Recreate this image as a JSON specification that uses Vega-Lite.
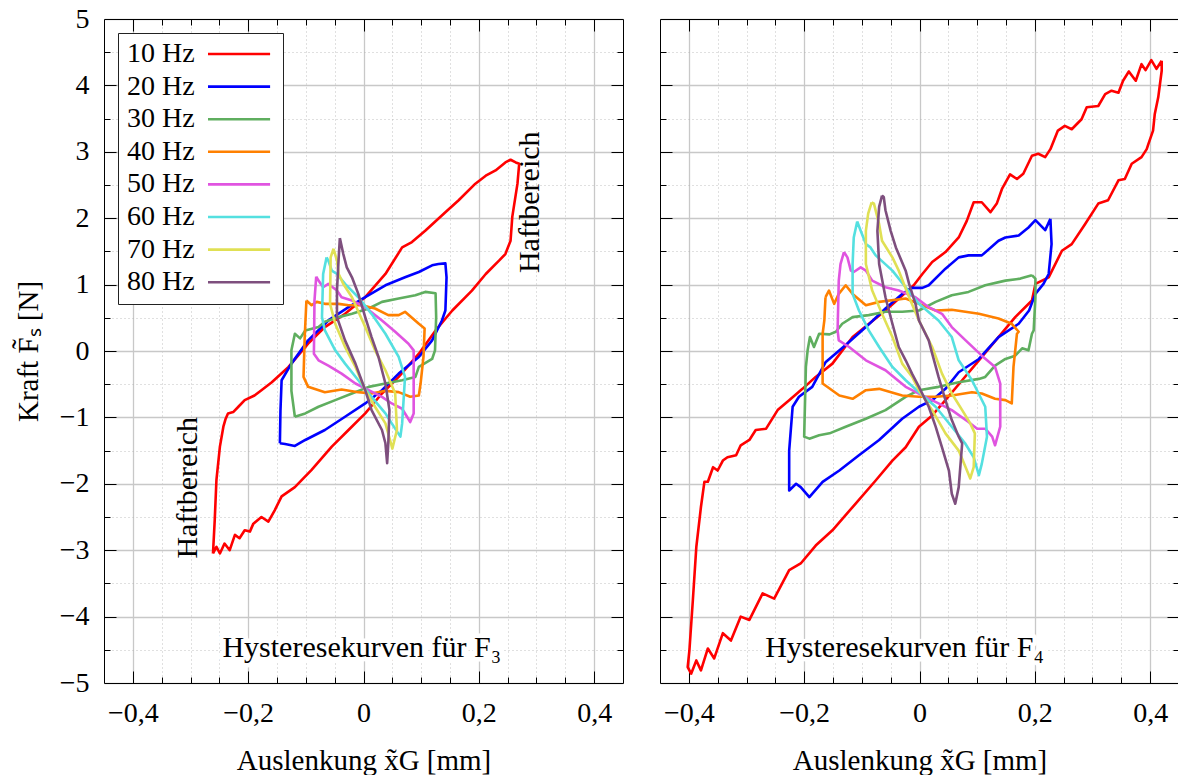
{
"$schema":"https://vega.github.io/schema/vega-lite/v6.json",
"background":"white",
"padding":{"left":14,"top":5,"right":0,"bottom":0},
"config":{
 "font":"Liberation Serif",
 "view":{"stroke":null},
 "concat":{"spacing":35},
 "axis":{"labelFont":"Liberation Serif","titleFont":"Liberation Serif","labelFontSize":28,"titleFontSize":29,"titleFontWeight":"normal","labelColor":"black","titleColor":"black","tickColor":"black","domainColor":"black","domainWidth":1,"tickWidth":1,"gridColor":"#c8c8c8"},
 "legend":{"labelFont":"Liberation Serif","labelFontSize":28,"labelColor":"black"}
},
"datasets":{
"notes":[
{"p":"F3","k":"title","t":"Hysteresekurven für F₃","x":-0.003,"y":-4.47},
{"p":"F4","k":"title","t":"Hysteresekurven für F₄","x":-0.026,"y":-4.47},
{"p":"F3","k":"haft","t":"Haftbereich","x":-0.304,"y":-2.06},
{"p":"F3","k":"haft","t":"Haftbereich","x":0.289,"y":2.24}
],
"curves":[
{"p":"F3","f":"10 Hz","x":-0.261,"y":-3.05},{"p":"F3","f":"10 Hz","x":-0.258,"y":-2.55},{"p":"F3","f":"10 Hz","x":-0.255,"y":-1.94},{"p":"F3","f":"10 Hz","x":-0.249,"y":-1.44},{"p":"F3","f":"10 Hz","x":-0.243,"y":-1.14},{"p":"F3","f":"10 Hz","x":-0.239,"y":-1.02},{"p":"F3","f":"10 Hz","x":-0.235,"y":-0.94},{"p":"F3","f":"10 Hz","x":-0.226,"y":-0.92},{"p":"F3","f":"10 Hz","x":-0.217,"y":-0.84},{"p":"F3","f":"10 Hz","x":-0.206,"y":-0.74},{"p":"F3","f":"10 Hz","x":-0.189,"y":-0.67},{"p":"F3","f":"10 Hz","x":-0.177,"y":-0.59},{"p":"F3","f":"10 Hz","x":-0.159,"y":-0.47},{"p":"F3","f":"10 Hz","x":-0.13,"y":-0.24},{"p":"F3","f":"10 Hz","x":-0.096,"y":0.11},{"p":"F3","f":"10 Hz","x":-0.067,"y":0.36},{"p":"F3","f":"10 Hz","x":-0.032,"y":0.56},{"p":"F3","f":"10 Hz","x":0.003,"y":0.81},{"p":"F3","f":"10 Hz","x":0.038,"y":1.16},{"p":"F3","f":"10 Hz","x":0.067,"y":1.56},{"p":"F3","f":"10 Hz","x":0.084,"y":1.64},{"p":"F3","f":"10 Hz","x":0.107,"y":1.81},{"p":"F3","f":"10 Hz","x":0.142,"y":2.09},{"p":"F3","f":"10 Hz","x":0.165,"y":2.27},{"p":"F3","f":"10 Hz","x":0.194,"y":2.52},{"p":"F3","f":"10 Hz","x":0.212,"y":2.64},{"p":"F3","f":"10 Hz","x":0.229,"y":2.72},{"p":"F3","f":"10 Hz","x":0.246,"y":2.84},{"p":"F3","f":"10 Hz","x":0.255,"y":2.88},{"p":"F3","f":"10 Hz","x":0.264,"y":2.84},{"p":"F3","f":"10 Hz","x":0.27,"y":2.82},{"p":"F3","f":"10 Hz","x":0.267,"y":2.52},{"p":"F3","f":"10 Hz","x":0.258,"y":2.02},{"p":"F3","f":"10 Hz","x":0.255,"y":1.66},{"p":"F3","f":"10 Hz","x":0.246,"y":1.46},{"p":"F3","f":"10 Hz","x":0.235,"y":1.36},{"p":"F3","f":"10 Hz","x":0.212,"y":1.16},{"p":"F3","f":"10 Hz","x":0.188,"y":0.91},{"p":"F3","f":"10 Hz","x":0.154,"y":0.61},{"p":"F3","f":"10 Hz","x":0.125,"y":0.31},{"p":"F3","f":"10 Hz","x":0.096,"y":-0.04},{"p":"F3","f":"10 Hz","x":0.061,"y":-0.39},{"p":"F3","f":"10 Hz","x":0.032,"y":-0.64},{"p":"F3","f":"10 Hz","x":0.003,"y":-0.94},{"p":"F3","f":"10 Hz","x":-0.026,"y":-1.19},{"p":"F3","f":"10 Hz","x":-0.055,"y":-1.44},{"p":"F3","f":"10 Hz","x":-0.09,"y":-1.79},{"p":"F3","f":"10 Hz","x":-0.119,"y":-2.05},{"p":"F3","f":"10 Hz","x":-0.142,"y":-2.19},{"p":"F3","f":"10 Hz","x":-0.154,"y":-2.4},{"p":"F3","f":"10 Hz","x":-0.165,"y":-2.57},{"p":"F3","f":"10 Hz","x":-0.177,"y":-2.5},{"p":"F3","f":"10 Hz","x":-0.191,"y":-2.6},{"p":"F3","f":"10 Hz","x":-0.197,"y":-2.72},{"p":"F3","f":"10 Hz","x":-0.206,"y":-2.7},{"p":"F3","f":"10 Hz","x":-0.215,"y":-2.82},{"p":"F3","f":"10 Hz","x":-0.223,"y":-2.77},{"p":"F3","f":"10 Hz","x":-0.232,"y":-3.0},{"p":"F3","f":"10 Hz","x":-0.241,"y":-2.9},{"p":"F3","f":"10 Hz","x":-0.249,"y":-3.05},{"p":"F3","f":"10 Hz","x":-0.255,"y":-2.95},{"p":"F3","f":"10 Hz","x":-0.261,"y":-3.05},
{"p":"F3","f":"20 Hz","x":-0.145,"y":-1.39},{"p":"F3","f":"20 Hz","x":-0.144,"y":-0.9},{"p":"F3","f":"20 Hz","x":-0.142,"y":-0.44},{"p":"F3","f":"20 Hz","x":-0.125,"y":-0.19},{"p":"F3","f":"20 Hz","x":-0.096,"y":0.16},{"p":"F3","f":"20 Hz","x":-0.061,"y":0.46},{"p":"F3","f":"20 Hz","x":-0.026,"y":0.66},{"p":"F3","f":"20 Hz","x":0.003,"y":0.81},{"p":"F3","f":"20 Hz","x":0.038,"y":0.99},{"p":"F3","f":"20 Hz","x":0.072,"y":1.11},{"p":"F3","f":"20 Hz","x":0.096,"y":1.19},{"p":"F3","f":"20 Hz","x":0.119,"y":1.29},{"p":"F3","f":"20 Hz","x":0.13,"y":1.31},{"p":"F3","f":"20 Hz","x":0.142,"y":1.32},{"p":"F3","f":"20 Hz","x":0.144,"y":1.11},{"p":"F3","f":"20 Hz","x":0.142,"y":0.61},{"p":"F3","f":"20 Hz","x":0.136,"y":0.46},{"p":"F3","f":"20 Hz","x":0.119,"y":0.16},{"p":"F3","f":"20 Hz","x":0.096,"y":-0.09},{"p":"F3","f":"20 Hz","x":0.061,"y":-0.34},{"p":"F3","f":"20 Hz","x":0.032,"y":-0.59},{"p":"F3","f":"20 Hz","x":0.003,"y":-0.79},{"p":"F3","f":"20 Hz","x":-0.032,"y":-0.99},{"p":"F3","f":"20 Hz","x":-0.067,"y":-1.19},{"p":"F3","f":"20 Hz","x":-0.101,"y":-1.34},{"p":"F3","f":"20 Hz","x":-0.119,"y":-1.43},{"p":"F3","f":"20 Hz","x":-0.136,"y":-1.4},{"p":"F3","f":"20 Hz","x":-0.145,"y":-1.39},
{"p":"F3","f":"30 Hz","x":-0.119,"y":-0.99},{"p":"F3","f":"30 Hz","x":-0.125,"y":-0.6},{"p":"F3","f":"30 Hz","x":-0.125,"y":0.01},{"p":"F3","f":"30 Hz","x":-0.119,"y":0.26},{"p":"F3","f":"30 Hz","x":-0.11,"y":0.19},{"p":"F3","f":"30 Hz","x":-0.101,"y":0.31},{"p":"F3","f":"30 Hz","x":-0.078,"y":0.36},{"p":"F3","f":"30 Hz","x":-0.067,"y":0.44},{"p":"F3","f":"30 Hz","x":-0.043,"y":0.51},{"p":"F3","f":"30 Hz","x":-0.02,"y":0.56},{"p":"F3","f":"30 Hz","x":0.009,"y":0.64},{"p":"F3","f":"30 Hz","x":0.032,"y":0.74},{"p":"F3","f":"30 Hz","x":0.061,"y":0.79},{"p":"F3","f":"30 Hz","x":0.09,"y":0.84},{"p":"F3","f":"30 Hz","x":0.107,"y":0.89},{"p":"F3","f":"30 Hz","x":0.125,"y":0.87},{"p":"F3","f":"30 Hz","x":0.126,"y":0.51},{"p":"F3","f":"30 Hz","x":0.124,"y":0.01},{"p":"F3","f":"30 Hz","x":0.119,"y":-0.12},{"p":"F3","f":"30 Hz","x":0.096,"y":-0.24},{"p":"F3","f":"30 Hz","x":0.09,"y":-0.39},{"p":"F3","f":"30 Hz","x":0.067,"y":-0.44},{"p":"F3","f":"30 Hz","x":0.038,"y":-0.49},{"p":"F3","f":"30 Hz","x":0.009,"y":-0.54},{"p":"F3","f":"30 Hz","x":-0.02,"y":-0.64},{"p":"F3","f":"30 Hz","x":-0.049,"y":-0.74},{"p":"F3","f":"30 Hz","x":-0.078,"y":-0.84},{"p":"F3","f":"30 Hz","x":-0.101,"y":-0.94},{"p":"F3","f":"30 Hz","x":-0.119,"y":-0.99},
{"p":"F3","f":"40 Hz","x":-0.099,"y":0.76},{"p":"F3","f":"40 Hz","x":-0.102,"y":0.2},{"p":"F3","f":"40 Hz","x":-0.104,"y":-0.39},{"p":"F3","f":"40 Hz","x":-0.096,"y":-0.54},{"p":"F3","f":"40 Hz","x":-0.067,"y":-0.62},{"p":"F3","f":"40 Hz","x":-0.038,"y":-0.58},{"p":"F3","f":"40 Hz","x":-0.009,"y":-0.62},{"p":"F3","f":"40 Hz","x":0.014,"y":-0.64},{"p":"F3","f":"40 Hz","x":0.038,"y":-0.6},{"p":"F3","f":"40 Hz","x":0.061,"y":-0.62},{"p":"F3","f":"40 Hz","x":0.081,"y":-0.69},{"p":"F3","f":"40 Hz","x":0.096,"y":-0.67},{"p":"F3","f":"40 Hz","x":0.099,"y":-0.49},{"p":"F3","f":"40 Hz","x":0.104,"y":-0.09},{"p":"F3","f":"40 Hz","x":0.106,"y":0.34},{"p":"F3","f":"40 Hz","x":0.096,"y":0.41},{"p":"F3","f":"40 Hz","x":0.072,"y":0.59},{"p":"F3","f":"40 Hz","x":0.061,"y":0.54},{"p":"F3","f":"40 Hz","x":0.043,"y":0.54},{"p":"F3","f":"40 Hz","x":0.02,"y":0.64},{"p":"F3","f":"40 Hz","x":-0.003,"y":0.69},{"p":"F3","f":"40 Hz","x":-0.026,"y":0.69},{"p":"F3","f":"40 Hz","x":-0.043,"y":0.71},{"p":"F3","f":"40 Hz","x":-0.067,"y":0.71},{"p":"F3","f":"40 Hz","x":-0.081,"y":0.74},{"p":"F3","f":"40 Hz","x":-0.09,"y":0.69},{"p":"F3","f":"40 Hz","x":-0.099,"y":0.76},
{"p":"F3","f":"50 Hz","x":-0.082,"y":1.12},{"p":"F3","f":"50 Hz","x":-0.085,"y":0.76},{"p":"F3","f":"50 Hz","x":-0.086,"y":-0.04},{"p":"F3","f":"50 Hz","x":-0.078,"y":-0.14},{"p":"F3","f":"50 Hz","x":-0.061,"y":-0.22},{"p":"F3","f":"50 Hz","x":-0.038,"y":-0.34},{"p":"F3","f":"50 Hz","x":-0.014,"y":-0.49},{"p":"F3","f":"50 Hz","x":0.009,"y":-0.59},{"p":"F3","f":"50 Hz","x":0.032,"y":-0.69},{"p":"F3","f":"50 Hz","x":0.049,"y":-0.79},{"p":"F3","f":"50 Hz","x":0.067,"y":-0.87},{"p":"F3","f":"50 Hz","x":0.081,"y":-1.07},{"p":"F3","f":"50 Hz","x":0.087,"y":-0.94},{"p":"F3","f":"50 Hz","x":0.087,"y":0.01},{"p":"F3","f":"50 Hz","x":0.078,"y":0.11},{"p":"F3","f":"50 Hz","x":0.055,"y":0.29},{"p":"F3","f":"50 Hz","x":0.032,"y":0.46},{"p":"F3","f":"50 Hz","x":0.003,"y":0.66},{"p":"F3","f":"50 Hz","x":-0.02,"y":0.76},{"p":"F3","f":"50 Hz","x":-0.038,"y":0.81},{"p":"F3","f":"50 Hz","x":-0.046,"y":0.91},{"p":"F3","f":"50 Hz","x":-0.061,"y":1.01},{"p":"F3","f":"50 Hz","x":-0.07,"y":0.96},{"p":"F3","f":"50 Hz","x":-0.078,"y":1.06},{"p":"F3","f":"50 Hz","x":-0.082,"y":1.12},
{"p":"F3","f":"60 Hz","x":-0.064,"y":1.41},{"p":"F3","f":"60 Hz","x":-0.07,"y":1.16},{"p":"F3","f":"60 Hz","x":-0.072,"y":0.51},{"p":"F3","f":"60 Hz","x":-0.067,"y":0.31},{"p":"F3","f":"60 Hz","x":-0.049,"y":0.01},{"p":"F3","f":"60 Hz","x":-0.032,"y":-0.19},{"p":"F3","f":"60 Hz","x":-0.009,"y":-0.44},{"p":"F3","f":"60 Hz","x":0.014,"y":-0.69},{"p":"F3","f":"60 Hz","x":0.038,"y":-0.94},{"p":"F3","f":"60 Hz","x":0.049,"y":-1.09},{"p":"F3","f":"60 Hz","x":0.064,"y":-1.29},{"p":"F3","f":"60 Hz","x":0.067,"y":-1.09},{"p":"F3","f":"60 Hz","x":0.072,"y":-0.39},{"p":"F3","f":"60 Hz","x":0.061,"y":-0.09},{"p":"F3","f":"60 Hz","x":0.038,"y":0.26},{"p":"F3","f":"60 Hz","x":0.014,"y":0.56},{"p":"F3","f":"60 Hz","x":-0.009,"y":0.81},{"p":"F3","f":"60 Hz","x":-0.032,"y":1.01},{"p":"F3","f":"60 Hz","x":-0.046,"y":1.16},{"p":"F3","f":"60 Hz","x":-0.055,"y":1.21},{"p":"F3","f":"60 Hz","x":-0.061,"y":1.36},{"p":"F3","f":"60 Hz","x":-0.064,"y":1.41},
{"p":"F3","f":"70 Hz","x":-0.052,"y":1.54},{"p":"F3","f":"70 Hz","x":-0.057,"y":1.41},{"p":"F3","f":"70 Hz","x":-0.058,"y":0.71},{"p":"F3","f":"70 Hz","x":-0.049,"y":0.41},{"p":"F3","f":"70 Hz","x":-0.032,"y":0.06},{"p":"F3","f":"70 Hz","x":-0.014,"y":-0.24},{"p":"F3","f":"70 Hz","x":0.003,"y":-0.59},{"p":"F3","f":"70 Hz","x":0.02,"y":-0.84},{"p":"F3","f":"70 Hz","x":0.038,"y":-1.09},{"p":"F3","f":"70 Hz","x":0.046,"y":-1.34},{"p":"F3","f":"70 Hz","x":0.05,"y":-1.47},{"p":"F3","f":"70 Hz","x":0.058,"y":-1.19},{"p":"F3","f":"70 Hz","x":0.055,"y":-0.64},{"p":"F3","f":"70 Hz","x":0.038,"y":-0.29},{"p":"F3","f":"70 Hz","x":0.02,"y":0.01},{"p":"F3","f":"70 Hz","x":0.003,"y":0.36},{"p":"F3","f":"70 Hz","x":-0.02,"y":0.81},{"p":"F3","f":"70 Hz","x":-0.035,"y":1.01},{"p":"F3","f":"70 Hz","x":-0.043,"y":1.16},{"p":"F3","f":"70 Hz","x":-0.046,"y":1.36},{"p":"F3","f":"70 Hz","x":-0.052,"y":1.54},
{"p":"F3","f":"80 Hz","x":-0.041,"y":1.7},{"p":"F3","f":"80 Hz","x":-0.043,"y":1.41},{"p":"F3","f":"80 Hz","x":-0.046,"y":0.91},{"p":"F3","f":"80 Hz","x":-0.046,"y":0.51},{"p":"F3","f":"80 Hz","x":-0.032,"y":0.16},{"p":"F3","f":"80 Hz","x":-0.014,"y":-0.19},{"p":"F3","f":"80 Hz","x":0.003,"y":-0.59},{"p":"F3","f":"80 Hz","x":0.014,"y":-0.89},{"p":"F3","f":"80 Hz","x":0.032,"y":-1.19},{"p":"F3","f":"80 Hz","x":0.038,"y":-1.39},{"p":"F3","f":"80 Hz","x":0.041,"y":-1.69},{"p":"F3","f":"80 Hz","x":0.043,"y":-1.39},{"p":"F3","f":"80 Hz","x":0.045,"y":-0.89},{"p":"F3","f":"80 Hz","x":0.038,"y":-0.49},{"p":"F3","f":"80 Hz","x":0.026,"y":-0.09},{"p":"F3","f":"80 Hz","x":0.014,"y":0.21},{"p":"F3","f":"80 Hz","x":0.003,"y":0.51},{"p":"F3","f":"80 Hz","x":-0.009,"y":0.86},{"p":"F3","f":"80 Hz","x":-0.02,"y":1.11},{"p":"F3","f":"80 Hz","x":-0.029,"y":1.26},{"p":"F3","f":"80 Hz","x":-0.035,"y":1.46},{"p":"F3","f":"80 Hz","x":-0.041,"y":1.7},
{"p":"F4","f":"10 Hz","x":0.42,"y":4.37},{"p":"F4","f":"10 Hz","x":0.411,"y":4.25},{"p":"F4","f":"10 Hz","x":0.402,"y":4.38},{"p":"F4","f":"10 Hz","x":0.392,"y":4.23},{"p":"F4","f":"10 Hz","x":0.385,"y":4.32},{"p":"F4","f":"10 Hz","x":0.375,"y":4.07},{"p":"F4","f":"10 Hz","x":0.363,"y":4.21},{"p":"F4","f":"10 Hz","x":0.353,"y":4.07},{"p":"F4","f":"10 Hz","x":0.345,"y":3.89},{"p":"F4","f":"10 Hz","x":0.333,"y":3.92},{"p":"F4","f":"10 Hz","x":0.322,"y":3.87},{"p":"F4","f":"10 Hz","x":0.31,"y":3.69},{"p":"F4","f":"10 Hz","x":0.29,"y":3.67},{"p":"F4","f":"10 Hz","x":0.281,"y":3.49},{"p":"F4","f":"10 Hz","x":0.264,"y":3.34},{"p":"F4","f":"10 Hz","x":0.252,"y":3.39},{"p":"F4","f":"10 Hz","x":0.24,"y":3.32},{"p":"F4","f":"10 Hz","x":0.227,"y":3.04},{"p":"F4","f":"10 Hz","x":0.218,"y":2.92},{"p":"F4","f":"10 Hz","x":0.206,"y":2.97},{"p":"F4","f":"10 Hz","x":0.195,"y":2.94},{"p":"F4","f":"10 Hz","x":0.18,"y":2.67},{"p":"F4","f":"10 Hz","x":0.169,"y":2.59},{"p":"F4","f":"10 Hz","x":0.157,"y":2.66},{"p":"F4","f":"10 Hz","x":0.143,"y":2.44},{"p":"F4","f":"10 Hz","x":0.134,"y":2.22},{"p":"F4","f":"10 Hz","x":0.123,"y":2.09},{"p":"F4","f":"10 Hz","x":0.108,"y":2.24},{"p":"F4","f":"10 Hz","x":0.094,"y":2.24},{"p":"F4","f":"10 Hz","x":0.082,"y":1.96},{"p":"F4","f":"10 Hz","x":0.068,"y":1.71},{"p":"F4","f":"10 Hz","x":0.045,"y":1.49},{"p":"F4","f":"10 Hz","x":0.022,"y":1.34},{"p":"F4","f":"10 Hz","x":0.005,"y":1.16},{"p":"F4","f":"10 Hz","x":-0.01,"y":0.99},{"p":"F4","f":"10 Hz","x":-0.059,"y":0.61},{"p":"F4","f":"10 Hz","x":-0.116,"y":0.21},{"p":"F4","f":"10 Hz","x":-0.151,"y":-0.19},{"p":"F4","f":"10 Hz","x":-0.18,"y":-0.39},{"p":"F4","f":"10 Hz","x":-0.203,"y":-0.57},{"p":"F4","f":"10 Hz","x":-0.226,"y":-0.74},{"p":"F4","f":"10 Hz","x":-0.246,"y":-0.89},{"p":"F4","f":"10 Hz","x":-0.266,"y":-1.17},{"p":"F4","f":"10 Hz","x":-0.284,"y":-1.19},{"p":"F4","f":"10 Hz","x":-0.295,"y":-1.34},{"p":"F4","f":"10 Hz","x":-0.31,"y":-1.42},{"p":"F4","f":"10 Hz","x":-0.318,"y":-1.57},{"p":"F4","f":"10 Hz","x":-0.333,"y":-1.6},{"p":"F4","f":"10 Hz","x":-0.341,"y":-1.65},{"p":"F4","f":"10 Hz","x":-0.35,"y":-1.8},{"p":"F4","f":"10 Hz","x":-0.358,"y":-1.75},{"p":"F4","f":"10 Hz","x":-0.367,"y":-1.97},{"p":"F4","f":"10 Hz","x":-0.373,"y":-1.97},{"p":"F4","f":"10 Hz","x":-0.379,"y":-2.35},{"p":"F4","f":"10 Hz","x":-0.387,"y":-2.95},{"p":"F4","f":"10 Hz","x":-0.393,"y":-3.75},{"p":"F4","f":"10 Hz","x":-0.399,"y":-4.51},{"p":"F4","f":"10 Hz","x":-0.402,"y":-4.76},{"p":"F4","f":"10 Hz","x":-0.396,"y":-4.86},{"p":"F4","f":"10 Hz","x":-0.387,"y":-4.66},{"p":"F4","f":"10 Hz","x":-0.379,"y":-4.81},{"p":"F4","f":"10 Hz","x":-0.367,"y":-4.48},{"p":"F4","f":"10 Hz","x":-0.356,"y":-4.63},{"p":"F4","f":"10 Hz","x":-0.341,"y":-4.25},{"p":"F4","f":"10 Hz","x":-0.327,"y":-4.36},{"p":"F4","f":"10 Hz","x":-0.31,"y":-4.0},{"p":"F4","f":"10 Hz","x":-0.295,"y":-4.05},{"p":"F4","f":"10 Hz","x":-0.272,"y":-3.65},{"p":"F4","f":"10 Hz","x":-0.252,"y":-3.73},{"p":"F4","f":"10 Hz","x":-0.226,"y":-3.3},{"p":"F4","f":"10 Hz","x":-0.206,"y":-3.2},{"p":"F4","f":"10 Hz","x":-0.18,"y":-2.93},{"p":"F4","f":"10 Hz","x":-0.151,"y":-2.7},{"p":"F4","f":"10 Hz","x":-0.116,"y":-2.35},{"p":"F4","f":"10 Hz","x":-0.076,"y":-1.95},{"p":"F4","f":"10 Hz","x":-0.047,"y":-1.65},{"p":"F4","f":"10 Hz","x":-0.024,"y":-1.45},{"p":"F4","f":"10 Hz","x":-0.001,"y":-1.14},{"p":"F4","f":"10 Hz","x":0.022,"y":-0.97},{"p":"F4","f":"10 Hz","x":0.045,"y":-0.74},{"p":"F4","f":"10 Hz","x":0.074,"y":-0.44},{"p":"F4","f":"10 Hz","x":0.103,"y":-0.14},{"p":"F4","f":"10 Hz","x":0.137,"y":0.21},{"p":"F4","f":"10 Hz","x":0.166,"y":0.51},{"p":"F4","f":"10 Hz","x":0.195,"y":0.76},{"p":"F4","f":"10 Hz","x":0.201,"y":1.01},{"p":"F4","f":"10 Hz","x":0.224,"y":1.11},{"p":"F4","f":"10 Hz","x":0.247,"y":1.51},{"p":"F4","f":"10 Hz","x":0.264,"y":1.61},{"p":"F4","f":"10 Hz","x":0.287,"y":1.91},{"p":"F4","f":"10 Hz","x":0.31,"y":2.22},{"p":"F4","f":"10 Hz","x":0.327,"y":2.27},{"p":"F4","f":"10 Hz","x":0.345,"y":2.57},{"p":"F4","f":"10 Hz","x":0.356,"y":2.59},{"p":"F4","f":"10 Hz","x":0.368,"y":2.82},{"p":"F4","f":"10 Hz","x":0.385,"y":2.92},{"p":"F4","f":"10 Hz","x":0.394,"y":3.04},{"p":"F4","f":"10 Hz","x":0.397,"y":3.12},{"p":"F4","f":"10 Hz","x":0.405,"y":3.32},{"p":"F4","f":"10 Hz","x":0.408,"y":3.57},{"p":"F4","f":"10 Hz","x":0.414,"y":3.82},{"p":"F4","f":"10 Hz","x":0.42,"y":4.22},{"p":"F4","f":"10 Hz","x":0.42,"y":4.37},
{"p":"F4","f":"20 Hz","x":0.227,"y":1.99},{"p":"F4","f":"20 Hz","x":0.218,"y":1.82},{"p":"F4","f":"20 Hz","x":0.201,"y":1.97},{"p":"F4","f":"20 Hz","x":0.189,"y":1.86},{"p":"F4","f":"20 Hz","x":0.172,"y":1.74},{"p":"F4","f":"20 Hz","x":0.149,"y":1.71},{"p":"F4","f":"20 Hz","x":0.137,"y":1.66},{"p":"F4","f":"20 Hz","x":0.108,"y":1.44},{"p":"F4","f":"20 Hz","x":0.085,"y":1.44},{"p":"F4","f":"20 Hz","x":0.068,"y":1.41},{"p":"F4","f":"20 Hz","x":0.045,"y":1.24},{"p":"F4","f":"20 Hz","x":0.016,"y":0.99},{"p":"F4","f":"20 Hz","x":0.005,"y":0.95},{"p":"F4","f":"20 Hz","x":-0.013,"y":0.95},{"p":"F4","f":"20 Hz","x":-0.03,"y":0.86},{"p":"F4","f":"20 Hz","x":-0.059,"y":0.64},{"p":"F4","f":"20 Hz","x":-0.093,"y":0.36},{"p":"F4","f":"20 Hz","x":-0.128,"y":0.09},{"p":"F4","f":"20 Hz","x":-0.163,"y":-0.17},{"p":"F4","f":"20 Hz","x":-0.186,"y":-0.54},{"p":"F4","f":"20 Hz","x":-0.209,"y":-0.69},{"p":"F4","f":"20 Hz","x":-0.22,"y":-0.84},{"p":"F4","f":"20 Hz","x":-0.226,"y":-1.5},{"p":"F4","f":"20 Hz","x":-0.226,"y":-2.1},{"p":"F4","f":"20 Hz","x":-0.214,"y":-2.0},{"p":"F4","f":"20 Hz","x":-0.206,"y":-2.05},{"p":"F4","f":"20 Hz","x":-0.191,"y":-2.2},{"p":"F4","f":"20 Hz","x":-0.168,"y":-1.97},{"p":"F4","f":"20 Hz","x":-0.139,"y":-1.8},{"p":"F4","f":"20 Hz","x":-0.105,"y":-1.57},{"p":"F4","f":"20 Hz","x":-0.07,"y":-1.34},{"p":"F4","f":"20 Hz","x":-0.03,"y":-1.02},{"p":"F4","f":"20 Hz","x":-0.001,"y":-0.84},{"p":"F4","f":"20 Hz","x":0.022,"y":-0.74},{"p":"F4","f":"20 Hz","x":0.045,"y":-0.57},{"p":"F4","f":"20 Hz","x":0.068,"y":-0.32},{"p":"F4","f":"20 Hz","x":0.103,"y":-0.12},{"p":"F4","f":"20 Hz","x":0.137,"y":0.21},{"p":"F4","f":"20 Hz","x":0.172,"y":0.41},{"p":"F4","f":"20 Hz","x":0.19,"y":0.61},{"p":"F4","f":"20 Hz","x":0.201,"y":0.86},{"p":"F4","f":"20 Hz","x":0.215,"y":1.01},{"p":"F4","f":"20 Hz","x":0.224,"y":1.16},{"p":"F4","f":"20 Hz","x":0.229,"y":1.61},{"p":"F4","f":"20 Hz","x":0.227,"y":1.99},
{"p":"F4","f":"30 Hz","x":0.195,"y":1.14},{"p":"F4","f":"30 Hz","x":0.175,"y":1.09},{"p":"F4","f":"30 Hz","x":0.149,"y":1.06},{"p":"F4","f":"30 Hz","x":0.114,"y":0.99},{"p":"F4","f":"30 Hz","x":0.085,"y":0.89},{"p":"F4","f":"30 Hz","x":0.056,"y":0.84},{"p":"F4","f":"30 Hz","x":0.028,"y":0.74},{"p":"F4","f":"30 Hz","x":-0.001,"y":0.61},{"p":"F4","f":"30 Hz","x":-0.03,"y":0.59},{"p":"F4","f":"30 Hz","x":-0.059,"y":0.59},{"p":"F4","f":"30 Hz","x":-0.088,"y":0.54},{"p":"F4","f":"30 Hz","x":-0.116,"y":0.51},{"p":"F4","f":"30 Hz","x":-0.134,"y":0.41},{"p":"F4","f":"30 Hz","x":-0.145,"y":0.29},{"p":"F4","f":"30 Hz","x":-0.156,"y":0.25},{"p":"F4","f":"30 Hz","x":-0.174,"y":0.26},{"p":"F4","f":"30 Hz","x":-0.183,"y":0.06},{"p":"F4","f":"30 Hz","x":-0.19,"y":0.21},{"p":"F4","f":"30 Hz","x":-0.194,"y":0.01},{"p":"F4","f":"30 Hz","x":-0.197,"y":-0.24},{"p":"F4","f":"30 Hz","x":-0.2,"y":-1.29},{"p":"F4","f":"30 Hz","x":-0.191,"y":-1.32},{"p":"F4","f":"30 Hz","x":-0.174,"y":-1.27},{"p":"F4","f":"30 Hz","x":-0.156,"y":-1.24},{"p":"F4","f":"30 Hz","x":-0.128,"y":-1.14},{"p":"F4","f":"30 Hz","x":-0.093,"y":-1.02},{"p":"F4","f":"30 Hz","x":-0.059,"y":-0.89},{"p":"F4","f":"30 Hz","x":-0.024,"y":-0.69},{"p":"F4","f":"30 Hz","x":-0.001,"y":-0.59},{"p":"F4","f":"30 Hz","x":0.033,"y":-0.54},{"p":"F4","f":"30 Hz","x":0.068,"y":-0.47},{"p":"F4","f":"30 Hz","x":0.103,"y":-0.42},{"p":"F4","f":"30 Hz","x":0.114,"y":-0.39},{"p":"F4","f":"30 Hz","x":0.131,"y":-0.22},{"p":"F4","f":"30 Hz","x":0.149,"y":-0.12},{"p":"F4","f":"30 Hz","x":0.166,"y":-0.07},{"p":"F4","f":"30 Hz","x":0.178,"y":0.04},{"p":"F4","f":"30 Hz","x":0.189,"y":0.01},{"p":"F4","f":"30 Hz","x":0.195,"y":0.26},{"p":"F4","f":"30 Hz","x":0.198,"y":0.31},{"p":"F4","f":"30 Hz","x":0.201,"y":0.81},{"p":"F4","f":"30 Hz","x":0.201,"y":1.09},{"p":"F4","f":"30 Hz","x":0.195,"y":1.14},
{"p":"F4","f":"40 Hz","x":-0.163,"y":0.81},{"p":"F4","f":"40 Hz","x":-0.157,"y":0.91},{"p":"F4","f":"40 Hz","x":-0.148,"y":0.71},{"p":"F4","f":"40 Hz","x":-0.14,"y":0.86},{"p":"F4","f":"40 Hz","x":-0.128,"y":0.99},{"p":"F4","f":"40 Hz","x":-0.116,"y":0.86},{"p":"F4","f":"40 Hz","x":-0.093,"y":0.69},{"p":"F4","f":"40 Hz","x":-0.07,"y":0.74},{"p":"F4","f":"40 Hz","x":-0.024,"y":0.79},{"p":"F4","f":"40 Hz","x":-0.001,"y":0.71},{"p":"F4","f":"40 Hz","x":0.028,"y":0.61},{"p":"F4","f":"40 Hz","x":0.056,"y":0.62},{"p":"F4","f":"40 Hz","x":0.103,"y":0.56},{"p":"F4","f":"40 Hz","x":0.137,"y":0.49},{"p":"F4","f":"40 Hz","x":0.16,"y":0.41},{"p":"F4","f":"40 Hz","x":0.172,"y":0.29},{"p":"F4","f":"40 Hz","x":0.169,"y":0.26},{"p":"F4","f":"40 Hz","x":0.163,"y":-0.24},{"p":"F4","f":"40 Hz","x":0.16,"y":-0.79},{"p":"F4","f":"40 Hz","x":0.149,"y":-0.74},{"p":"F4","f":"40 Hz","x":0.131,"y":-0.72},{"p":"F4","f":"40 Hz","x":0.108,"y":-0.64},{"p":"F4","f":"40 Hz","x":0.091,"y":-0.62},{"p":"F4","f":"40 Hz","x":0.056,"y":-0.67},{"p":"F4","f":"40 Hz","x":0.028,"y":-0.69},{"p":"F4","f":"40 Hz","x":-0.001,"y":-0.69},{"p":"F4","f":"40 Hz","x":-0.03,"y":-0.67},{"p":"F4","f":"40 Hz","x":-0.07,"y":-0.57},{"p":"F4","f":"40 Hz","x":-0.093,"y":-0.59},{"p":"F4","f":"40 Hz","x":-0.116,"y":-0.72},{"p":"F4","f":"40 Hz","x":-0.139,"y":-0.67},{"p":"F4","f":"40 Hz","x":-0.168,"y":-0.49},{"p":"F4","f":"40 Hz","x":-0.168,"y":0.26},{"p":"F4","f":"40 Hz","x":-0.165,"y":0.46},{"p":"F4","f":"40 Hz","x":-0.163,"y":0.81},
{"p":"F4","f":"50 Hz","x":-0.131,"y":1.49},{"p":"F4","f":"50 Hz","x":-0.137,"y":1.31},{"p":"F4","f":"50 Hz","x":-0.14,"y":1.06},{"p":"F4","f":"50 Hz","x":-0.142,"y":0.31},{"p":"F4","f":"50 Hz","x":-0.14,"y":0.16},{"p":"F4","f":"50 Hz","x":-0.122,"y":0.06},{"p":"F4","f":"50 Hz","x":-0.093,"y":-0.14},{"p":"F4","f":"50 Hz","x":-0.059,"y":-0.29},{"p":"F4","f":"50 Hz","x":-0.024,"y":-0.54},{"p":"F4","f":"50 Hz","x":0.01,"y":-0.69},{"p":"F4","f":"50 Hz","x":0.033,"y":-0.79},{"p":"F4","f":"50 Hz","x":0.056,"y":-0.89},{"p":"F4","f":"50 Hz","x":0.085,"y":-1.07},{"p":"F4","f":"50 Hz","x":0.1,"y":-1.17},{"p":"F4","f":"50 Hz","x":0.114,"y":-1.17},{"p":"F4","f":"50 Hz","x":0.126,"y":-1.29},{"p":"F4","f":"50 Hz","x":0.131,"y":-1.42},{"p":"F4","f":"50 Hz","x":0.14,"y":-1.14},{"p":"F4","f":"50 Hz","x":0.14,"y":-0.49},{"p":"F4","f":"50 Hz","x":0.131,"y":-0.24},{"p":"F4","f":"50 Hz","x":0.108,"y":-0.07},{"p":"F4","f":"50 Hz","x":0.08,"y":0.16},{"p":"F4","f":"50 Hz","x":0.056,"y":0.36},{"p":"F4","f":"50 Hz","x":0.039,"y":0.56},{"p":"F4","f":"50 Hz","x":0.016,"y":0.66},{"p":"F4","f":"50 Hz","x":-0.007,"y":0.81},{"p":"F4","f":"50 Hz","x":-0.036,"y":0.91},{"p":"F4","f":"50 Hz","x":-0.059,"y":0.96},{"p":"F4","f":"50 Hz","x":-0.082,"y":1.06},{"p":"F4","f":"50 Hz","x":-0.093,"y":1.21},{"p":"F4","f":"50 Hz","x":-0.102,"y":1.26},{"p":"F4","f":"50 Hz","x":-0.114,"y":1.19},{"p":"F4","f":"50 Hz","x":-0.119,"y":1.21},{"p":"F4","f":"50 Hz","x":-0.125,"y":1.41},{"p":"F4","f":"50 Hz","x":-0.131,"y":1.49},
{"p":"F4","f":"60 Hz","x":-0.108,"y":1.95},{"p":"F4","f":"60 Hz","x":-0.114,"y":1.71},{"p":"F4","f":"60 Hz","x":-0.116,"y":1.31},{"p":"F4","f":"60 Hz","x":-0.116,"y":0.86},{"p":"F4","f":"60 Hz","x":-0.105,"y":0.61},{"p":"F4","f":"60 Hz","x":-0.088,"y":0.31},{"p":"F4","f":"60 Hz","x":-0.07,"y":0.06},{"p":"F4","f":"60 Hz","x":-0.047,"y":-0.24},{"p":"F4","f":"60 Hz","x":-0.024,"y":-0.44},{"p":"F4","f":"60 Hz","x":-0.001,"y":-0.62},{"p":"F4","f":"60 Hz","x":0.028,"y":-0.84},{"p":"F4","f":"60 Hz","x":0.056,"y":-1.14},{"p":"F4","f":"60 Hz","x":0.079,"y":-1.39},{"p":"F4","f":"60 Hz","x":0.094,"y":-1.6},{"p":"F4","f":"60 Hz","x":0.103,"y":-1.87},{"p":"F4","f":"60 Hz","x":0.108,"y":-1.7},{"p":"F4","f":"60 Hz","x":0.117,"y":-1.29},{"p":"F4","f":"60 Hz","x":0.114,"y":-0.84},{"p":"F4","f":"60 Hz","x":0.091,"y":-0.44},{"p":"F4","f":"60 Hz","x":0.068,"y":-0.14},{"p":"F4","f":"60 Hz","x":0.056,"y":0.21},{"p":"F4","f":"60 Hz","x":0.033,"y":0.46},{"p":"F4","f":"60 Hz","x":-0.001,"y":0.71},{"p":"F4","f":"60 Hz","x":-0.024,"y":0.96},{"p":"F4","f":"60 Hz","x":-0.047,"y":1.21},{"p":"F4","f":"60 Hz","x":-0.076,"y":1.44},{"p":"F4","f":"60 Hz","x":-0.085,"y":1.56},{"p":"F4","f":"60 Hz","x":-0.093,"y":1.61},{"p":"F4","f":"60 Hz","x":-0.102,"y":1.81},{"p":"F4","f":"60 Hz","x":-0.108,"y":1.95},
{"p":"F4","f":"70 Hz","x":-0.083,"y":2.24},{"p":"F4","f":"70 Hz","x":-0.089,"y":2.07},{"p":"F4","f":"70 Hz","x":-0.093,"y":1.81},{"p":"F4","f":"70 Hz","x":-0.093,"y":1.31},{"p":"F4","f":"70 Hz","x":-0.082,"y":0.91},{"p":"F4","f":"70 Hz","x":-0.065,"y":0.56},{"p":"F4","f":"70 Hz","x":-0.047,"y":0.21},{"p":"F4","f":"70 Hz","x":-0.03,"y":-0.19},{"p":"F4","f":"70 Hz","x":-0.012,"y":-0.4},{"p":"F4","f":"70 Hz","x":-0.001,"y":-0.59},{"p":"F4","f":"70 Hz","x":0.022,"y":-0.89},{"p":"F4","f":"70 Hz","x":0.045,"y":-1.24},{"p":"F4","f":"70 Hz","x":0.068,"y":-1.5},{"p":"F4","f":"70 Hz","x":0.08,"y":-1.75},{"p":"F4","f":"70 Hz","x":0.088,"y":-1.92},{"p":"F4","f":"70 Hz","x":0.094,"y":-1.75},{"p":"F4","f":"70 Hz","x":0.096,"y":-1.24},{"p":"F4","f":"70 Hz","x":0.088,"y":-1.09},{"p":"F4","f":"70 Hz","x":0.074,"y":-0.89},{"p":"F4","f":"70 Hz","x":0.056,"y":-0.64},{"p":"F4","f":"70 Hz","x":0.039,"y":-0.34},{"p":"F4","f":"70 Hz","x":0.022,"y":0.06},{"p":"F4","f":"70 Hz","x":-0.001,"y":0.46},{"p":"F4","f":"70 Hz","x":-0.018,"y":0.81},{"p":"F4","f":"70 Hz","x":-0.036,"y":1.21},{"p":"F4","f":"70 Hz","x":-0.047,"y":1.41},{"p":"F4","f":"70 Hz","x":-0.065,"y":1.66},{"p":"F4","f":"70 Hz","x":-0.07,"y":1.91},{"p":"F4","f":"70 Hz","x":-0.079,"y":2.22},{"p":"F4","f":"70 Hz","x":-0.083,"y":2.24},
{"p":"F4","f":"80 Hz","x":-0.065,"y":2.34},{"p":"F4","f":"80 Hz","x":-0.07,"y":2.17},{"p":"F4","f":"80 Hz","x":-0.073,"y":1.81},{"p":"F4","f":"80 Hz","x":-0.07,"y":1.31},{"p":"F4","f":"80 Hz","x":-0.059,"y":0.81},{"p":"F4","f":"80 Hz","x":-0.047,"y":0.41},{"p":"F4","f":"80 Hz","x":-0.036,"y":0.06},{"p":"F4","f":"80 Hz","x":-0.024,"y":-0.14},{"p":"F4","f":"80 Hz","x":-0.013,"y":-0.34},{"p":"F4","f":"80 Hz","x":-0.001,"y":-0.54},{"p":"F4","f":"80 Hz","x":0.016,"y":-0.84},{"p":"F4","f":"80 Hz","x":0.028,"y":-1.14},{"p":"F4","f":"80 Hz","x":0.039,"y":-1.45},{"p":"F4","f":"80 Hz","x":0.051,"y":-1.8},{"p":"F4","f":"80 Hz","x":0.056,"y":-2.15},{"p":"F4","f":"80 Hz","x":0.062,"y":-2.3},{"p":"F4","f":"80 Hz","x":0.068,"y":-2.05},{"p":"F4","f":"80 Hz","x":0.074,"y":-1.39},{"p":"F4","f":"80 Hz","x":0.068,"y":-1.29},{"p":"F4","f":"80 Hz","x":0.056,"y":-1.04},{"p":"F4","f":"80 Hz","x":0.045,"y":-0.74},{"p":"F4","f":"80 Hz","x":0.033,"y":-0.39},{"p":"F4","f":"80 Hz","x":0.022,"y":-0.04},{"p":"F4","f":"80 Hz","x":0.016,"y":0.16},{"p":"F4","f":"80 Hz","x":-0.001,"y":0.46},{"p":"F4","f":"80 Hz","x":-0.007,"y":0.71},{"p":"F4","f":"80 Hz","x":-0.018,"y":1.01},{"p":"F4","f":"80 Hz","x":-0.024,"y":1.21},{"p":"F4","f":"80 Hz","x":-0.041,"y":1.56},{"p":"F4","f":"80 Hz","x":-0.05,"y":1.81},{"p":"F4","f":"80 Hz","x":-0.059,"y":2.12},{"p":"F4","f":"80 Hz","x":-0.062,"y":2.32},{"p":"F4","f":"80 Hz","x":-0.065,"y":2.34}
]},
"resolve":{"scale":{"color":"independent"}},
"hconcat":[
{"width":519,"height":664,
 "layer":[
  {"data":{"name":"curves"},"transform":[{"filter":"datum.p==='F3'"}],
   "mark":{"type":"line","strokeWidth":2.6,"strokeJoin":"round"},
   "encoding":{
    "x":{"field":"x","type":"quantitative","scale":{"domain":[-0.45,0.45],"nice":false,"zero":false},
      "axis":{"orient":"bottom","values":[-0.4,-0.2,0,0.2,0.4],"labelExpr":"datum.value==0?'0':replace(format(datum.value,'.1f'),'.',',')","ticks":false,"grid":true,"gridWidth":1.3,"domain":true,"labelPadding":16,"title":"Auslenkung x̃G [mm]","titlePadding":19}},
    "y":{"field":"y","type":"quantitative","scale":{"domain":[-5,5],"nice":false,"zero":false},
      "axis":{"orient":"left","values":[-5,-4,-3,-2,-1,0,1,2,3,4,5],"format":"d","ticks":false,"grid":true,"gridWidth":1.3,"domain":true,"labelPadding":15,"title":"Kraft F̃ₛ [N]","titlePadding":16}},
    "color":{"field":"f","type":"nominal","scale":{"domain":["10 Hz","20 Hz","30 Hz","40 Hz","50 Hz","60 Hz","70 Hz","80 Hz"],"range":["#ff0000","#0000ff","#5fae5f","#ff8000","#e054e0","#54e0e0","#e0e054","#7e4f7e"]},
      "legend":{"orient":"top-left","offset":14,"title":null,"symbolType":"M23,0H43.7","symbolSize":36,"symbolStrokeWidth":2.6,"fillColor":"white","strokeColor":"#222222","padding":7,"rowPadding":4.6,"labelOffset":-26,"cornerRadius":0}},
    "order":{"value":null}
   }},
  {"data":{"name":"notes"},"transform":[{"filter":"datum.p==='F3' && datum.k==='title'"}],
   "mark":{"type":"text","fontSize":30,"font":"Liberation Serif","fill":"white","stroke":"white","strokeWidth":9,"strokeJoin":"round","align":"center","baseline":"middle"},
   "encoding":{
    "x":{"field":"x","type":"quantitative","axis":{"orient":"bottom","values":[-0.35,-0.3,-0.25,-0.15,-0.1,-0.05,0.05,0.1,0.15,0.25,0.3,0.35],"labels":false,"domain":false,"ticks":true,"tickSize":-6,"grid":true,"gridDash":[1,3],"gridColor":"#b0b0b0","gridWidth":0.8,"title":null}},
    "y":{"field":"y","type":"quantitative","axis":{"orient":"left","values":[-4.5,-3.5,-2.5,-1.5,-0.5,0.5,1.5,2.5,3.5,4.5],"labels":false,"domain":false,"ticks":true,"tickSize":-6,"grid":true,"gridDash":[1,3],"gridColor":"#b0b0b0","gridWidth":0.8,"title":null}},
    "text":{"field":"t"}
   }},
  {"data":{"name":"notes"},"transform":[{"filter":"datum.p==='F3' && datum.k==='title'"}],
   "mark":{"type":"text","fontSize":30,"font":"Liberation Serif","fill":"black","align":"center","baseline":"middle"},
   "encoding":{
    "x":{"field":"x","type":"quantitative","axis":{"orient":"top","values":[-0.4,-0.2,0,0.2,0.4],"labels":false,"domain":true,"ticks":true,"tickSize":-12,"grid":false,"title":null}},
    "y":{"field":"y","type":"quantitative","axis":{"orient":"right","values":[-4,-3,-2,-1,0,1,2,3,4],"labels":false,"domain":true,"ticks":true,"tickSize":-12,"grid":false,"title":null}},
    "text":{"field":"t"}
   }},
  {"data":{"name":"notes"},"transform":[{"filter":"datum.p==='F3' && datum.k==='haft'"}],
   "mark":{"type":"text","fontSize":30,"font":"Liberation Serif","fill":"black","align":"center","baseline":"middle","angle":270},
   "encoding":{
    "x":{"field":"x","type":"quantitative","axis":{"orient":"top","values":[-0.35,-0.3,-0.25,-0.15,-0.1,-0.05,0.05,0.1,0.15,0.25,0.3,0.35],"labels":false,"domain":false,"ticks":true,"tickSize":-6,"grid":false,"title":null}},
    "y":{"field":"y","type":"quantitative","axis":{"orient":"right","values":[-4.5,-3.5,-2.5,-1.5,-0.5,0.5,1.5,2.5,3.5,4.5],"labels":false,"domain":false,"ticks":true,"tickSize":-6,"grid":false,"title":null}},
    "text":{"field":"t"}
   }},
  {"data":{"name":"notes"},"transform":[{"filter":"datum.p==='F3' && datum.k==='title'"}],
   "mark":{"type":"text","fontSize":28,"opacity":0},
   "encoding":{
    "x":{"field":"x","type":"quantitative","axis":{"orient":"bottom","values":[-0.4,-0.2,0,0.2,0.4],"labels":false,"domain":false,"ticks":true,"tickSize":-12,"grid":false,"title":null}},
    "y":{"field":"y","type":"quantitative","axis":{"orient":"left","values":[-4,-3,-2,-1,0,1,2,3,4],"labels":false,"domain":false,"ticks":true,"tickSize":-12,"grid":false,"title":null}},
    "text":{"field":"t"}
   }}
 ],
 "resolve":{"axis":{"x":"independent","y":"independent"}}
},
{"width":519,"height":664,
 "layer":[
  {"data":{"name":"curves"},"transform":[{"filter":"datum.p==='F4'"}],
   "mark":{"type":"line","strokeWidth":2.6,"strokeJoin":"round"},
   "encoding":{
    "x":{"field":"x","type":"quantitative","scale":{"domain":[-0.45,0.45],"nice":false,"zero":false},
      "axis":{"orient":"bottom","values":[-0.4,-0.2,0,0.2,0.4],"labelExpr":"datum.value==0?'0':replace(format(datum.value,'.1f'),'.',',')","ticks":false,"grid":true,"gridWidth":1.3,"domain":true,"labelPadding":16,"title":"Auslenkung x̃G [mm]","titlePadding":19}},
    "y":{"field":"y","type":"quantitative","scale":{"domain":[-5,5],"nice":false,"zero":false},
      "axis":{"orient":"left","values":[-5,-4,-3,-2,-1,0,1,2,3,4,5],"labels":false,"ticks":false,"grid":true,"gridWidth":1.3,"domain":true,"title":null}},
    "color":{"field":"f","type":"nominal","scale":{"domain":["10 Hz","20 Hz","30 Hz","40 Hz","50 Hz","60 Hz","70 Hz","80 Hz"],"range":["#ff0000","#0000ff","#5fae5f","#ff8000","#e054e0","#54e0e0","#e0e054","#7e4f7e"]},"legend":null},
    "order":{"value":null}
   }},
  {"data":{"name":"notes"},"transform":[{"filter":"datum.p==='F4' && datum.k==='title'"}],
   "mark":{"type":"text","fontSize":30,"font":"Liberation Serif","fill":"white","stroke":"white","strokeWidth":9,"strokeJoin":"round","align":"center","baseline":"middle"},
   "encoding":{
    "x":{"field":"x","type":"quantitative","axis":{"orient":"bottom","values":[-0.35,-0.3,-0.25,-0.15,-0.1,-0.05,0.05,0.1,0.15,0.25,0.3,0.35],"labels":false,"domain":false,"ticks":true,"tickSize":-6,"grid":true,"gridDash":[1,3],"gridColor":"#b0b0b0","gridWidth":0.8,"title":null}},
    "y":{"field":"y","type":"quantitative","axis":{"orient":"left","values":[-4.5,-3.5,-2.5,-1.5,-0.5,0.5,1.5,2.5,3.5,4.5],"labels":false,"domain":false,"ticks":true,"tickSize":-6,"grid":true,"gridDash":[1,3],"gridColor":"#b0b0b0","gridWidth":0.8,"title":null}},
    "text":{"field":"t"}
   }},
  {"data":{"name":"notes"},"transform":[{"filter":"datum.p==='F4' && datum.k==='title'"}],
   "mark":{"type":"text","fontSize":30,"font":"Liberation Serif","fill":"black","align":"center","baseline":"middle"},
   "encoding":{
    "x":{"field":"x","type":"quantitative","axis":{"orient":"top","values":[-0.4,-0.2,0,0.2,0.4],"labels":false,"domain":true,"ticks":true,"tickSize":-12,"grid":false,"title":null}},
    "y":{"field":"y","type":"quantitative","axis":{"orient":"right","values":[-4,-3,-2,-1,0,1,2,3,4],"labels":false,"domain":true,"ticks":true,"tickSize":-12,"grid":false,"title":null}},
    "text":{"field":"t"}
   }},
  {"data":{"name":"notes"},"transform":[{"filter":"datum.p==='F4' && datum.k==='title'"}],
   "mark":{"type":"text","fontSize":28,"opacity":0},
   "encoding":{
    "x":{"field":"x","type":"quantitative","axis":{"orient":"top","values":[-0.35,-0.3,-0.25,-0.15,-0.1,-0.05,0.05,0.1,0.15,0.25,0.3,0.35],"labels":false,"domain":false,"ticks":true,"tickSize":-6,"grid":false,"title":null}},
    "y":{"field":"y","type":"quantitative","axis":{"orient":"right","values":[-4.5,-3.5,-2.5,-1.5,-0.5,0.5,1.5,2.5,3.5,4.5],"labels":false,"domain":false,"ticks":true,"tickSize":-6,"grid":false,"title":null}},
    "text":{"field":"t"}
   }},
  {"data":{"name":"notes"},"transform":[{"filter":"datum.p==='F4' && datum.k==='title'"}],
   "mark":{"type":"text","fontSize":28,"opacity":0},
   "encoding":{
    "x":{"field":"x","type":"quantitative","axis":{"orient":"bottom","values":[-0.4,-0.2,0,0.2,0.4],"labels":false,"domain":false,"ticks":true,"tickSize":-12,"grid":false,"title":null}},
    "y":{"field":"y","type":"quantitative","axis":{"orient":"left","values":[-4,-3,-2,-1,0,1,2,3,4],"labels":false,"domain":false,"ticks":true,"tickSize":-12,"grid":false,"title":null}},
    "text":{"field":"t"}
   }}
 ],
 "resolve":{"axis":{"x":"independent","y":"independent"}}
}
]
}
